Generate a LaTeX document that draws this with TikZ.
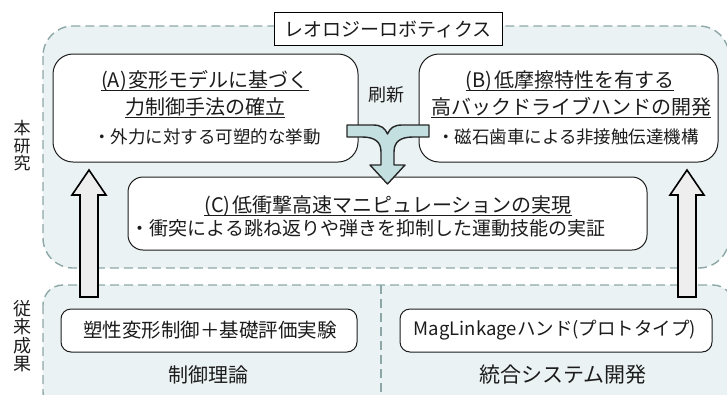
\documentclass[tikz,border=0pt]{standalone}
\usepackage{fontspec}
\setmainfont{Noto Sans CJK JP}
\definecolor{regionfill}{HTML}{EBF2F3}
\definecolor{regionline}{HTML}{8CA7A8}
\definecolor{mergefill}{HTML}{C3DFE0}
\definecolor{hollowfill}{HTML}{EEEEEE}
\definecolor{ink}{HTML}{1C1C1C}
\newcommand\myul[1]{\setbox0\hbox{#1}\rlap{\smash{\rule[-3.5pt]{\wd0}{1.2pt}}}\box0}
\begin{document}
\begin{tikzpicture}[x=1pt,y=-1pt,
  regionline/.style={draw=regionline, line width=1.4pt, dash pattern=on 9pt off 5pt},
  region/.style={regionline, fill=regionfill},
  titlebox/.style={draw=black, fill=white, line width=1pt, minimum width=228pt, minimum height=33pt, inner sep=0pt, font=\fontsize{19}{22}\selectfont, text=ink},
  bigbox/.style={draw=ink, fill=white, line width=1pt, rounded corners=20pt, inner sep=0pt},
  cbox/.style={draw=ink, fill=white, line width=1pt, rounded corners=15pt, inner sep=0pt},
  smallbox/.style={draw=ink, fill=white, line width=1pt, rounded corners=10pt, inner sep=0pt},
  head/.style={inner sep=0pt, text=ink, font=\fontsize{20}{24}\selectfont},
  sub/.style={inner sep=0pt, text=ink, font=\fontsize{17.5}{20}\selectfont},
  lowtext/.style={inner sep=0pt, text=ink, font=\fontsize{19.5}{22}\selectfont},
  label/.style={inner sep=0pt, text=ink, font=\fontsize{20}{24}\selectfont},
  side/.style={inner sep=0pt, text=ink, align=center},
  merge/.style={draw=black!85, fill=mergefill, line width=1.4pt, line join=round},
  hollow/.style={draw=black, fill=hollowfill, line width=1.6pt, line join=miter}
]
\useasboundingbox (0,0) rectangle (727,394);
\clip (0,0) rectangle (727,394);

% regions
\draw[region, rounded corners=30pt] (43,26) rectangle (729,268);
\draw[region, rounded corners=20pt] (43,285) rectangle (733,412);
\coordinate (divtop) at (381,285);
\coordinate (divbot) at (381,394);
\draw[regionline] (divtop) -- (divbot);

% title
\node[titlebox] (title) at (388,29) {レオロジーロボティクス};

% side labels
\node[side, font=\fontsize{17}{17.5}\selectfont] (hon) at (22,146) {本\\研\\究};
\node[side, font=\fontsize{18}{18.5}\selectfont] (juu) at (22,336) {従\\来\\成\\果};

% hollow arrows
\draw[hollow] (80,297) -- (80,195) -- (72,195) -- (89,170) -- (106,195) -- (98,195) -- (98,297) -- cycle;
\draw[hollow] (678,297) -- (678,195) -- (670,195) -- (687,170) -- (704,195) -- (696,195) -- (696,297) -- cycle;

% main boxes
\node[bigbox, minimum width=305pt, minimum height=108pt] (A) at (205.5,108) {};
\node[bigbox, minimum width=299pt, minimum height=108pt] (B) at (568.5,108) {};
\node[cbox, minimum width=519pt, minimum height=73pt] (C) at (387.5,213.5) {};

\node[head] (A1) at (205,81) {\myul{(A)\hspace{2pt}変形モデルに基づく}};
\node[head] (A2) at (205,107) {\myul{力制御手法の確立}};
\node[sub] (A3) at (207,137) {・外力に対する可塑的な挙動};

\node[head] (B1) at (570,81) {\myul{(B)\hspace{2pt}低摩擦特性を有する}};
\node[head] (B2) at (571,107) {\myul{高バックドライブハンドの開発}};
\node[sub] (B3) at (568,137) {・磁石歯車による非接触伝達機構};

\node[head] (C1) at (388,206) {\myul{(C)\hspace{2pt}低衝撃高速マニピュレーションの実現}};
\node[sub, font=\fontsize{19}{21}\selectfont] (C2) at (368,228) {・衝突による跳ね返りや弾きを抑制した運動技能の実証};

\node[inner sep=0pt, text=ink, font=\fontsize{18}{20}\selectfont] (renew) at (386,95) {刷新};

% merge arrow
\draw[merge] (347,125) -- (373,125) .. controls (381,125) and (385,128) .. (387.5,134)
  .. controls (390,128) and (394,125) .. (402,125) -- (429,125) -- (429,137) -- (413,137)
  .. controls (400,137) and (394,142) .. (394,152) -- (394,165) -- (405,165) -- (387.5,184)
  -- (370,165) -- (381,165) -- (381,152) .. controls (381,142) and (375,137) .. (362,137)
  -- (347,137) -- cycle;

% bottom boxes
\node[smallbox, minimum width=296pt, minimum height=43pt] (L) at (209,330.5) {};
\node[smallbox, minimum width=312pt, minimum height=43pt] (R) at (556,330.5) {};
\node[lowtext] (Lt) at (210,330) {塑性変形制御＋基礎評価実験};
\node[lowtext, font=\fontsize{18.5}{22}\selectfont] (Rt) at (555,330) {MagLinkageハンド(プロトタイプ)};
\node[label] (Ll) at (208,375) {制御理論};
\node[label, font=\fontsize{21}{24}\selectfont] (Rl) at (563,375) {統合システム開発};
\end{tikzpicture}
\end{document}
